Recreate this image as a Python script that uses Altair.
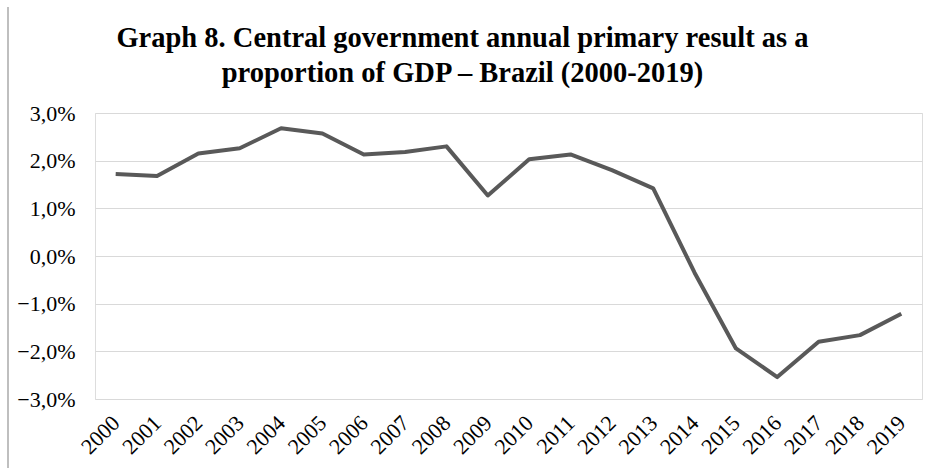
import altair as alt
import pandas as pd

# Central government primary result, % of GDP
years = [str(y) for y in range(2000, 2020)]
primary_result = [1.72, 1.68, 2.15, 2.26, 2.68, 2.57, 2.13, 2.18, 2.30, 1.27,
                  2.03, 2.13, 1.80, 1.42, -0.35, -1.94, -2.54, -1.80, -1.66, -1.21]
y_ticks = [-3, -2, -1, 0, 1, 2, 3]

df = pd.DataFrame({"year": years, "value": [v / 100 for v in primary_result]})

W, H = 827, 286
PAD = {"left": 95, "top": 113, "right": 8, "bottom": 69}
FONT = "Liberation Serif"

line = alt.Chart(df).mark_line(color="#595959", strokeWidth=4, strokeJoin="round").encode(
    x=alt.X("year:O", sort=years, title=None,
            scale=alt.Scale(paddingInner=0, paddingOuter=0.5),
            axis=alt.Axis(labelAngle=-45, labelFontSize=22, labelFont=FONT,
                          labelColor="#000000", domain=False, ticks=False,
                          labelAlign="right", labelBaseline="middle",
                          labelPadding=20, grid=False, labelOverlap=False)),
    y=alt.Y("value:Q", title=None,
            scale=alt.Scale(domain=[-0.03, 0.03], nice=False),
            axis=alt.Axis(values=[t / 100 for t in y_ticks],
                          labelExpr="replace(format(datum.value, '.1%'), '.', ',')",
                          labelFontSize=22, labelFont=FONT, labelColor="#000000",
                          labelPadding=20, domain=False, ticks=False,
                          grid=True, gridColor="#d9d9d9", gridWidth=1)),
)

# thin frame edge on the left side
edge = alt.Chart(df).mark_rule(color="#bfbfbf", strokeWidth=1.5).encode(
    x=alt.value(8 - PAD["left"]),
    y=alt.value(7 - PAD["top"]),
    y2=alt.value(468 - PAD["top"]),
)

chart = alt.layer(edge, line).properties(
    width=W, height=H,
    autosize=alt.AutoSizeParams(type="none"),
    padding=PAD,
    title=alt.Title(
        ["Graph 8. Central government annual primary result as a",
         "proportion of GDP \u2013 Brazil (2000-2019)"],
        font=FONT, fontSize=28.5, fontWeight="bold", color="#000000",
        anchor="middle", frame="group", dx=-46, offset=0, dy=104,
        baseline="alphabetic", lineHeight=35,
    ),
).configure_view(stroke=None).configure(background="white")

chart.save("out.html", embed_options={"renderer": "svg", "actions": False})
